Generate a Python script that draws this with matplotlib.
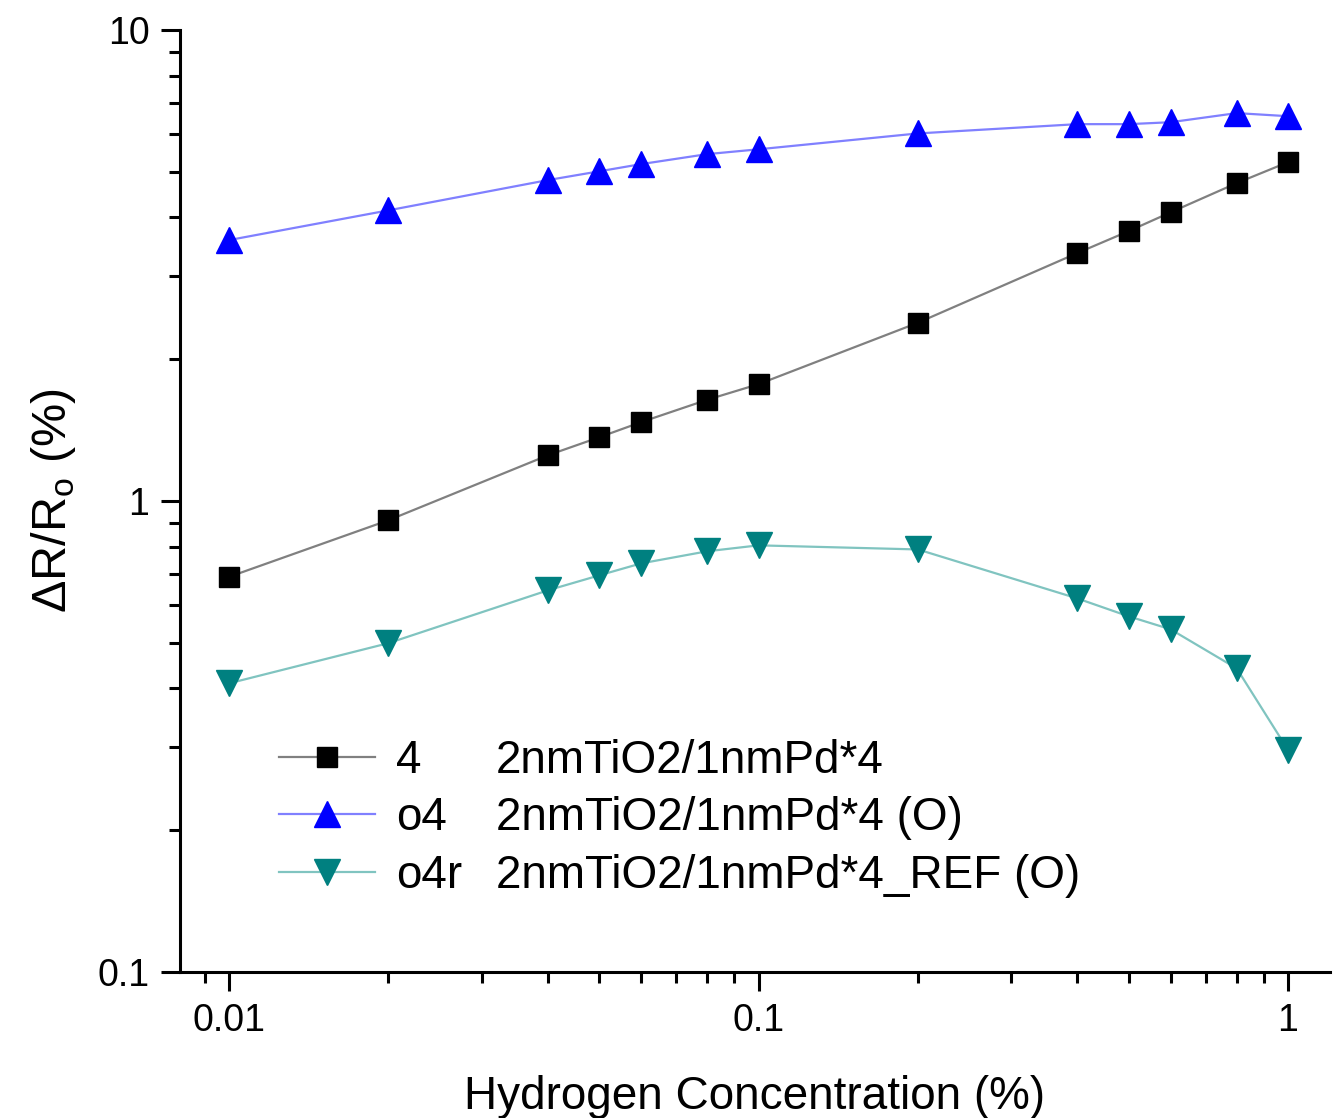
import matplotlib
matplotlib.use("Agg")
import matplotlib.pyplot as plt
from matplotlib.ticker import LogLocator, NullFormatter

plt.rcParams['font.family'] = ['Liberation Sans', 'DejaVu Sans']
plt.rcParams['mathtext.fontset'] = 'custom'
plt.rcParams['mathtext.rm'] = 'Liberation Sans'

# data
conc = [0.01, 0.02, 0.04, 0.05, 0.06, 0.08, 0.1, 0.2, 0.4, 0.5, 0.6, 0.8, 1.0]
s4 = [0.69, 0.91, 1.25, 1.365, 1.47, 1.64, 1.77, 2.39, 3.36, 3.74, 4.10, 4.73, 5.24]
o4 = [3.58, 4.14, 4.80, 5.01, 5.19, 5.45, 5.58, 6.03, 6.31, 6.31, 6.37, 6.66, 6.56]
o4r = [0.41, 0.499, 0.646, 0.695, 0.737, 0.782, 0.805, 0.789, 0.621, 0.569, 0.534, 0.441, 0.296]

names = ["4", "o4", "o4r"]
descs = ["2nmTiO2/1nmPd*4", "2nmTiO2/1nmPd*4 (O)", "2nmTiO2/1nmPd*4_REF (O)"]

fig = plt.figure(figsize=(13.36, 11.18), dpi=100)
ax = fig.add_axes([0.1347, 0.1306, 0.8608, 0.8426])

h1, = ax.plot(conc, s4, color='#808080', lw=1.6, marker='s', ms=15,
              mfc='black', mec='black')
h2, = ax.plot(conc, o4, color='#8080ff', lw=1.6, marker='^', ms=19,
              mfc='#0000ff', mec='#0000ff')
h3, = ax.plot(conc, o4r, color='#80c4c0', lw=1.6, marker='v', ms=19,
              mfc='#008080', mec='#008080')

ax.set_xscale('log')
ax.set_yscale('log')
ax.set_xlim(0.00808, 1.2)
ax.set_ylim(0.1, 10)

ax.set_xticks([0.01, 0.1, 1])
ax.set_xticklabels(['0.01', '0.1', '1'], fontsize=27)
ax.set_yticks([0.1, 1, 10])
ax.set_yticklabels(['0.1', '1', '10'], fontsize=27)
for a in (ax.xaxis, ax.yaxis):
    a.set_minor_locator(LogLocator(base=10, subs=range(2, 10), numticks=20))
    a.set_minor_formatter(NullFormatter())

ax.spines['top'].set_visible(False)
ax.spines['right'].set_visible(False)
for s in ('left', 'bottom'):
    ax.spines[s].set_linewidth(2.2)
ax.tick_params(which='major', length=14, width=2.2, direction='out', pad=8)
ax.tick_params(which='minor', length=8, width=2.2, direction='out')

ax.set_xlabel('Hydrogen Concentration (%)', fontsize=33, labelpad=26)
ax.set_ylabel(r'$\Delta$R/R$_\mathrm{o}$ (%)', fontsize=35, labelpad=14)

leg1 = ax.legend([h1, h2, h3], names, loc='upper left', bbox_to_anchor=(0.066, 0.272),
                 frameon=False, fontsize=33, handlelength=2.1, handletextpad=0.45,
                 labelspacing=0.3, borderpad=0)
ax.add_artist(leg1)
blank = [plt.Line2D([], [], lw=0, marker='') for _ in descs]
ax.legend(blank, descs, loc='upper left', bbox_to_anchor=(0.255, 0.272),
          frameon=False, fontsize=33, handlelength=0, handletextpad=0,
          labelspacing=0.3, borderpad=0)

fig.savefig('out.png', dpi=100)
